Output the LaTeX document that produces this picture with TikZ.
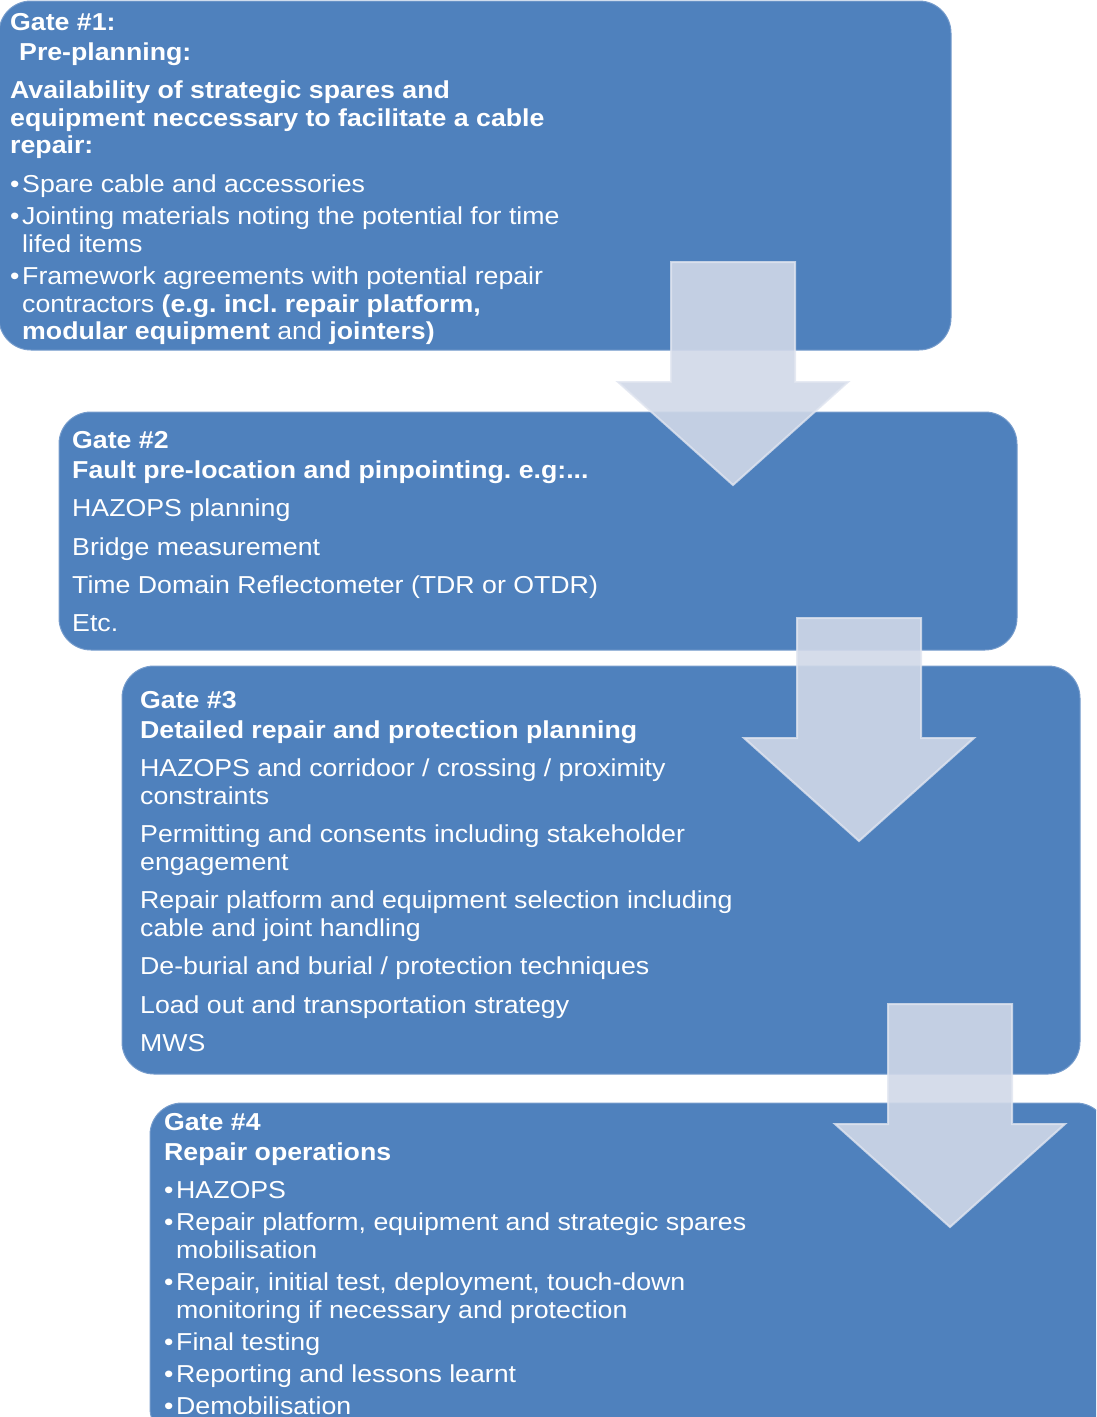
\documentclass[tikz,border=0pt]{standalone}
\usepackage{fontspec}
\setmainfont{Liberation Sans}[FakeStretch=1.09]
\frenchspacing
\definecolor{gateblue}{RGB}{79,129,189}
\definecolor{gateedge}{RGB}{118,156,204}
\definecolor{flowfill}{RGB}{208,216,232}
\definecolor{flowedge}{RGB}{224,229,240}
\newcommand{\itm}{\makebox[12pt][l]{\textbullet}}
\tikzset{
  gatebox/.style={fill=gateblue, draw=gateedge, line width=1pt, rounded corners=32pt},
  gatetext/.style={anchor=base west, inner sep=0pt, text=white, font=\fontsize{24.5}{28}\selectfont},
  gatehead/.style={gatetext, font=\fontsize{24.5}{28}\selectfont\bfseries},
  flowarrow/.pic={
    \draw[fill=flowfill, draw=flowedge, line width=2pt, fill opacity=0.9, draw opacity=0.8]
      (-62,0) -- (62,0) -- (62,120) -- (115,120) -- (0,223) -- (-115,120) -- (-62,120) -- cycle;
  }
}
\begin{document}
\begin{tikzpicture}[x=1pt, y=-1pt]
    \clip (0,0) rectangle (1096,1417);

    \draw[gatebox] (-1,1) rectangle (951,350);
    \draw[gatebox] (59,412) rectangle (1017,650);
    \draw[gatebox] (122,666) rectangle (1080,1074);
    \draw[gatebox] (150,1103) rectangle (1108,1440);

    \pic at (733,262) {flowarrow};
    \pic at (859,618) {flowarrow};
    \pic at (950,1004) {flowarrow};

    \node[gatehead] (g1a) at (10,30) {Gate \#1:};
    \node[gatehead] (g1b) at (19,60) {Pre-planning:};
    \node[gatehead] (g1c) at (10,98) {Availability of strategic spares and};
    \node[gatehead] (g1d) at (10,126) {equipment neccessary to facilitate a cable};
    \node[gatehead] (g1e) at (10,153) {repair:};
    \node[gatetext] (g1f) at (10,192) {\itm Spare cable and accessories};
    \node[gatetext] (g1g) at (10,224) {\itm Jointing materials noting the potential for time};
    \node[gatetext] (g1h) at (22,252) {lifed items};
    \node[gatetext] (g1i) at (10,284) {\itm Framework agreements with potential repair};
    \node[gatetext] (g1j) at (22,312) {contractors \textbf{(e.g. incl. repair platform,}};
    \node[gatetext] (g1k) at (22,339) {\textbf{modular equipment} and \textbf{jointers)}};

    \node[gatehead] (g2a) at (72,448) {Gate \#2};
    \node[gatehead] (g2b) at (72,478) {Fault pre-location and pinpointing. e.g:...};
    \node[gatetext] (g2c) at (72,516) {HAZOPS planning};
    \node[gatetext] (g2d) at (72,555) {Bridge measurement};
    \node[gatetext] (g2e) at (72,593) {Time Domain Reflectometer (TDR or OTDR)};
    \node[gatetext] (g2f) at (72,631) {Etc.};

    \node[gatehead] (g3a) at (140,708) {Gate \#3};
    \node[gatehead] (g3b) at (140,738) {Detailed repair and protection planning};
    \node[gatetext] (g3c) at (140,776) {HAZOPS and corridoor / crossing / proximity};
    \node[gatetext] (g3d) at (140,804) {constraints};
    \node[gatetext] (g3e) at (140,842) {Permitting and consents including stakeholder};
    \node[gatetext] (g3f) at (140,870) {engagement};
    \node[gatetext] (g3g) at (140,908) {Repair platform and equipment selection including};
    \node[gatetext] (g3h) at (140,936) {cable and joint handling};
    \node[gatetext] (g3i) at (140,974) {De-burial and burial / protection techniques};
    \node[gatetext] (g3j) at (140,1013) {Load out and transportation strategy};
    \node[gatetext] (g3k) at (140,1051) {MWS};

    \node[gatehead] (g4a) at (164,1130) {Gate \#4};
    \node[gatehead] (g4b) at (164,1160) {Repair operations};
    \node[gatetext] (g4c) at (164,1198) {\itm HAZOPS};
    \node[gatetext] (g4d) at (164,1230) {\itm Repair platform, equipment and strategic spares};
    \node[gatetext] (g4e) at (176,1258) {mobilisation};
    \node[gatetext] (g4f) at (164,1290) {\itm Repair, initial test, deployment, touch-down};
    \node[gatetext] (g4g) at (176,1318) {monitoring if necessary and protection};
    \node[gatetext] (g4h) at (164,1350) {\itm Final testing};
    \node[gatetext] (g4i) at (164,1382) {\itm Reporting and lessons learnt};
    \node[gatetext] (g4j) at (164,1414) {\itm Demobilisation};
\end{tikzpicture}
\end{document}
